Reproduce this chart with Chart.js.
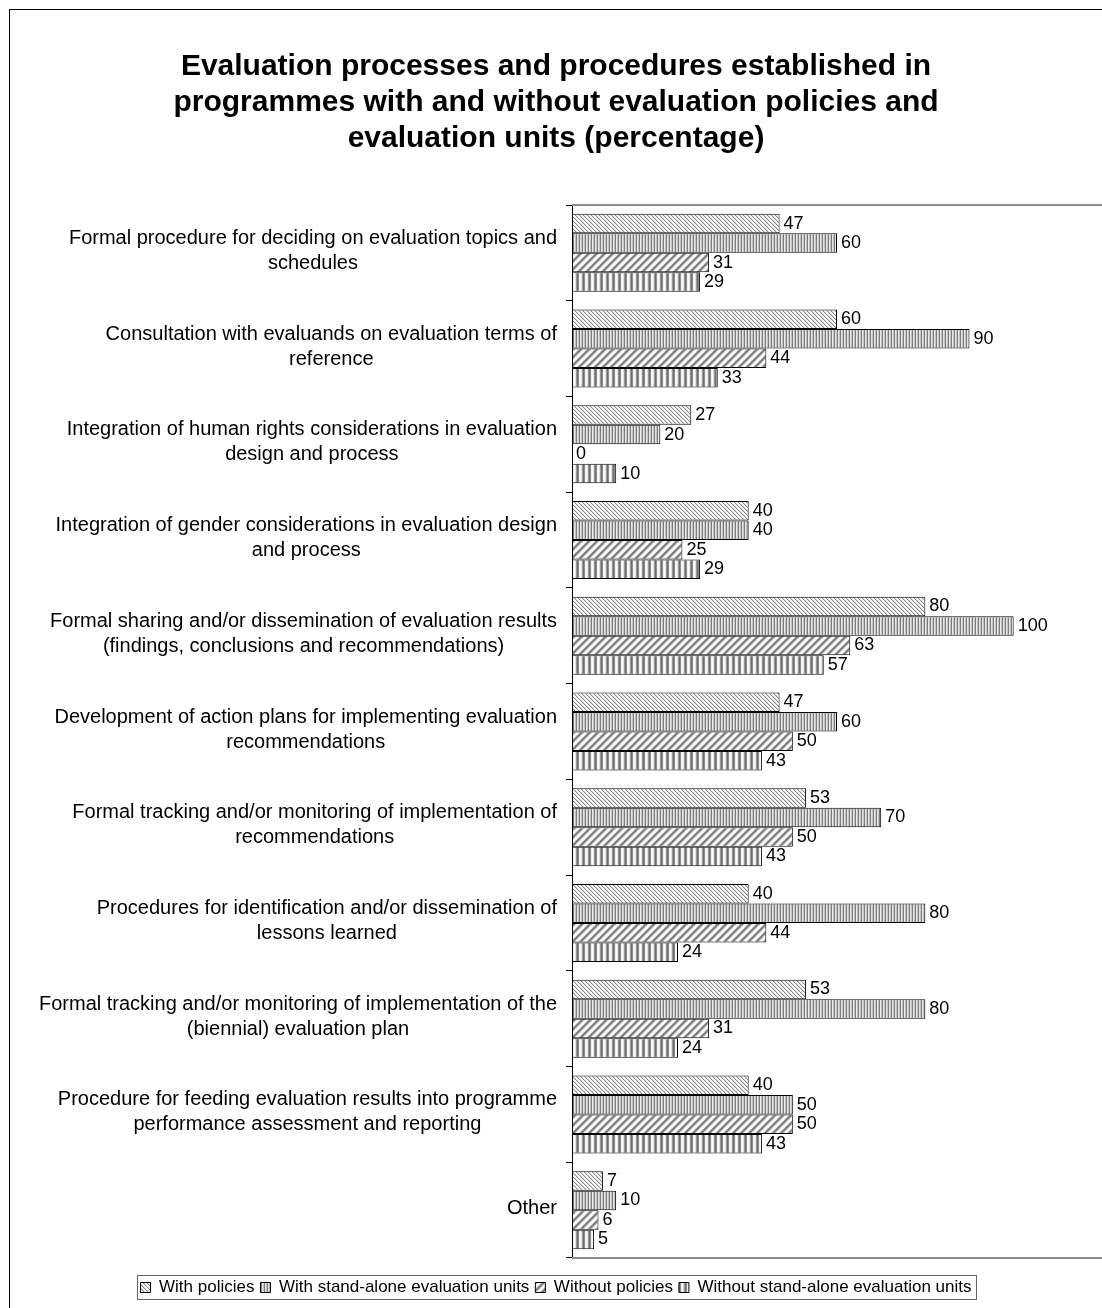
<!DOCTYPE html>
<html>
<head>
<meta charset="utf-8">
<title>Evaluation processes and procedures</title>
<script src="https://cdn.jsdelivr.net/npm/chart.js@4/dist/chart.umd.min.js"></script>
<style>
  html, body { margin: 0; padding: 0; background: #fff; overflow: hidden; }
  #wrap { width: 1102px; height: 1308px; }
</style>
</head>
<body>
<div id="wrap"><canvas id="chart" width="1102" height="1308"></canvas></div>
<script>
// Category labels (each entry is a list of wrapped lines)
const categories = [
  ["Formal procedure for deciding on evaluation topics and", "schedules"],
  ["Consultation with evaluands on evaluation terms of", "reference"],
  ["Integration of human rights considerations in evaluation", "design and process"],
  ["Integration of gender considerations in evaluation design", "and process"],
  ["Formal sharing and/or dissemination of evaluation results", "(findings, conclusions and recommendations)"],
  ["Development of action plans for implementing evaluation", "recommendations"],
  ["Formal tracking and/or monitoring of implementation of", "recommendations"],
  ["Procedures for identification and/or dissemination of", "lessons learned"],
  ["Formal tracking and/or monitoring of implementation of the", "(biennial) evaluation plan"],
  ["Procedure for feeding evaluation results into programme", "performance assessment and reporting"],
  ["Other"]
];

const seriesNames = [
  "With policies",
  "With stand-alone evaluation units",
  "Without policies",
  "Without stand-alone evaluation units"
];

// Percentages per series, in category order
const withPolicies        = [47, 60, 27, 40, 80, 47, 53, 40, 53, 40, 7];
const withUnits           = [60, 90, 20, 40, 100, 60, 70, 80, 80, 50, 10];
const withoutPolicies     = [31, 44, 0, 25, 63, 50, 50, 44, 31, 50, 6];
const withoutUnits        = [29, 33, 10, 29, 57, 43, 43, 24, 24, 43, 5];

const chartTitle = [
  "Evaluation processes and procedures established in",
  "programmes with and without evaluation policies and",
  "evaluation units (percentage)"
];

const FONT = "'Liberation Sans', Arial, Helvetica, sans-serif";

// ---- fill patterns built from small pixel tiles ----
function tilePattern(w, h, colorAt) {
  const c = document.createElement('canvas');
  c.width = w; c.height = h;
  const g = c.getContext('2d');
  for (let y = 0; y < h; y++) {
    for (let x = 0; x < w; x++) {
      g.fillStyle = colorAt(x, y);
      g.fillRect(x, y, 1, 1);
    }
  }
  return document.getElementById('chart').getContext('2d').createPattern(c, 'repeat');
}

// fine "\" hatching, light
const patFineDiag = tilePattern(4, 4, (x, y) => {
  const d = ((x - y) % 4 + 4) % 4;
  return d === 0 ? '#8a8a8a' : (d === 1 ? '#d8d8d8' : '#ffffff');
});
// fine vertical stripes
const patFineVert = tilePattern(3, 1, (x) => ['#7c7c7c', '#e6e6e6', '#c4c4c4'][x]);
// wide "/" stripes
const patWideDiag = tilePattern(8, 8, (x, y) => {
  const d = (x + y) % 8;
  return ['#9a9a9a', '#777777', '#8a8a8a', '#b8b8b8', '#f4f4f4', '#ffffff', '#ffffff', '#e4e4e4'][d];
});
// wide vertical stripes
const patWideVert = tilePattern(6, 1, (x) => ['#9a9a9a', '#6e6e6e', '#8c8c8c', '#f2f2f2', '#ffffff', '#e0e0e0'][x]);

const fills = [patFineDiag, patFineVert, patWideDiag, patWideVert];
const seriesValues = [withPolicies, withUnits, withoutPolicies, withoutUnits];

// ---- plugins ----
const framePlugin = {
  id: 'frame',
  beforeDraw(chart) {
    const ctx = chart.ctx;
    ctx.save();
    ctx.fillStyle = '#fff';
    ctx.fillRect(0, 0, chart.width, chart.height);
    ctx.strokeStyle = '#000';
    ctx.lineWidth = 1;
    ctx.strokeRect(9.5, 9.5, chart.width + 20, chart.height + 20);
    ctx.restore();
  },
  afterDraw(chart) {
    const ctx = chart.ctx;
    const a = chart.chartArea;
    ctx.save();
    // plot area top and bottom edges
    ctx.strokeStyle = '#8c8c8c';
    ctx.lineWidth = 2;
    ctx.beginPath();
    ctx.moveTo(a.left, a.top);
    ctx.lineTo(a.right, a.top);
    ctx.moveTo(a.left, a.bottom);
    ctx.lineTo(a.right, a.bottom);
    ctx.stroke();
    // legend outline
    const hb = chart.legend.legendHitBoxes;
    if (hb && hb.length) {
      let l = Infinity, r = -Infinity, t = Infinity, b = -Infinity;
      hb.forEach(h => {
        l = Math.min(l, h.left); r = Math.max(r, h.left + h.width);
        t = Math.min(t, h.top); b = Math.max(b, h.top + h.height);
      });
      ctx.strokeStyle = '#666';
      ctx.lineWidth = 1;
      ctx.strokeRect(Math.round(l - 4) + 0.5, Math.round(t - 4) + 0.5, Math.round(r - l + 8), Math.round(b - t + 7));
    }
    ctx.restore();
  }
};

// category labels: block right-aligned to the axis, lines centred within the block
const categoryLabelPlugin = {
  id: 'categoryLabels',
  afterDraw(chart) {
    const ctx = chart.ctx;
    const yScale = chart.scales.y;
    const right = yScale.right - 15;
    const lh = 25;
    ctx.save();
    ctx.font = '20px ' + FONT;
    ctx.fillStyle = '#000';
    ctx.textAlign = 'center';
    ctx.textBaseline = 'middle';
    categories.forEach((lines, i) => {
      const cy = yScale.getPixelForValue(i);
      const w = Math.max(...lines.map(s => ctx.measureText(s).width));
      const cx = right - w / 2;
      const y0 = cy - (lines.length - 1) * lh / 2 - 2;
      lines.forEach((s, k) => ctx.fillText(s, cx, y0 + k * lh));
    });
    ctx.restore();
  }
};

// value labels at the end of each bar
const valueLabelPlugin = {
  id: 'valueLabels',
  afterDatasetsDraw(chart) {
    const ctx = chart.ctx;
    ctx.save();
    ctx.font = '18px ' + FONT;
    ctx.fillStyle = '#000';
    ctx.textAlign = 'left';
    ctx.textBaseline = 'middle';
    chart.data.datasets.forEach((ds, di) => {
      const meta = chart.getDatasetMeta(di);
      meta.data.forEach((el, i) => {
        ctx.fillText(String(ds.data[i]), el.x + 4, el.y);
      });
    });
    ctx.restore();
  }
};

new Chart(document.getElementById('chart'), {
  type: 'bar',
  data: {
    labels: categories.map(l => l.join(' ')),
    datasets: seriesNames.map((name, i) => ({
      label: name,
      data: seriesValues[i],
      backgroundColor: fills[i],
      borderColor: '#000',
      borderWidth: 1,
      borderSkipped: false,
      barPercentage: 1.0,
      categoryPercentage: 0.815
    }))
  },
  options: {
    indexAxis: 'y',
    responsive: false,
    animation: false,
    devicePixelRatio: 1,
    layout: { padding: { left: 10, right: 0, top: 0, bottom: 2 } },
    scales: {
      x: {
        min: 0,
        max: 120,
        display: true,
        grid: { display: false },
        border: { display: false },
        ticks: { display: false },
        afterFit(s) { s.height = 15; }
      },
      y: {
        grid: { display: true, drawOnChartArea: false, drawTicks: true, tickLength: 6, color: '#000', offset: true },
        border: { display: true, color: '#000', width: 1 },
        ticks: { display: false },
        afterFit(s) { s.width = 562; }
      }
    },
    plugins: {
      title: {
        display: true,
        text: chartTitle,
        color: '#000',
        font: { family: FONT, size: 30, weight: 'bold', lineHeight: 1.2 },
        padding: { top: 49, bottom: 48 }
      },
      legend: {
        display: true,
        position: 'bottom',
        labels: {
          color: '#000',
          font: { family: FONT, size: 17 },
          boxWidth: 10,
          boxHeight: 10,
          padding: 6
        }
      },
      tooltip: { enabled: false }
    }
  },
  plugins: [framePlugin, categoryLabelPlugin, valueLabelPlugin]
});
</script>
</body>
</html>
